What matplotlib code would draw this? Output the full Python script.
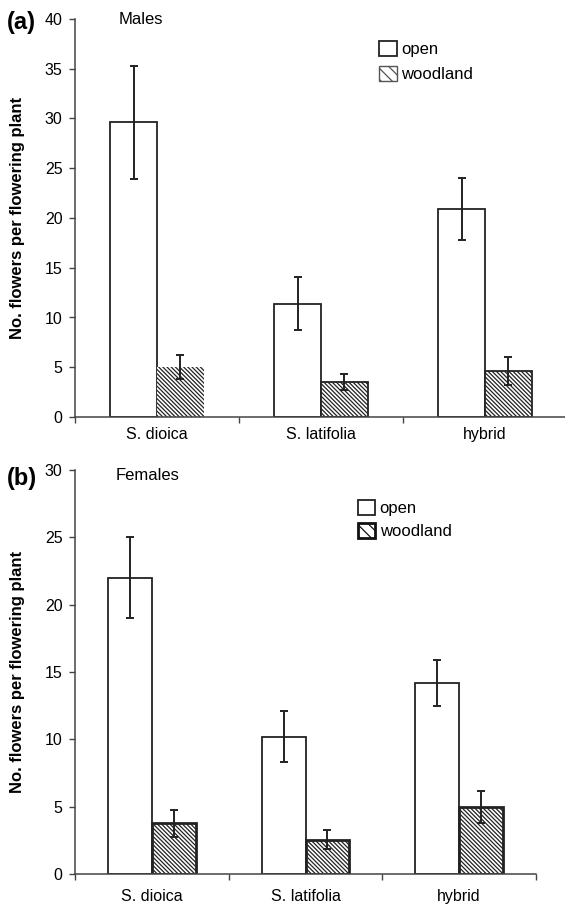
import numpy as np
import matplotlib.pyplot as plt
from matplotlib.patches import Patch

plt.rcParams['font.family'] = ['Liberation Sans', 'DejaVu Sans']
plt.rcParams['hatch.linewidth'] = 0.9

# Daten
species = ["S. dioica", "S. latifolia", "hybrid"]

males_open = [29.6, 11.4, 20.9]
males_open_se = [5.7, 2.65, 3.1]
males_wood = [5.05, 3.5, 4.6]
males_wood_se = [1.2, 0.8, 1.4]

females_open = [22.0, 10.2, 14.2]
females_open_se = [3.0, 1.9, 1.7]
females_wood = [3.76, 2.55, 5.0]
females_wood_se = [1.0, 0.7, 1.2]

HATCH = '\\' * 8

W, H = 565, 908
fig = plt.figure(figsize=(W / 100, H / 100), dpi=100)

def px_axes(left, right, top, bottom):
    return fig.add_axes([left / W, 1 - bottom / H, (right - left) / W, (bottom - top) / H])

def panel(ax, vals_open, se_open, vals_wood, se_wood, ymax, wood_lw, xlab_pad):
    x = np.arange(len(species))
    bw = 0.286
    ax.bar(x - bw / 2, vals_open, bw, color='white', edgecolor='#222222', linewidth=1.3)
    ax.bar(x + bw / 2, vals_wood, bw, color='white', edgecolor='#222222', hatch=HATCH,
           linewidth=wood_lw)
    ax.errorbar(x - bw / 2, vals_open, yerr=se_open, fmt='none', ecolor='#222222',
                elinewidth=1.4, capsize=3.2, capthick=1.4)
    ax.errorbar(x + bw / 2, vals_wood, yerr=se_wood, fmt='none', ecolor='#222222',
                elinewidth=1.4, capsize=3.2, capthick=1.4)
    ax.set_xlim(-0.5, len(species) - 0.5)
    ax.set_ylim(0, ymax)
    ax.set_yticks(np.arange(0, ymax + 1, 5))
    ax.set_xticks(x)
    ax.set_xticklabels(species)
    ax.set_xticks(np.arange(-0.5, len(species)), minor=True)
    ax.tick_params(axis='x', which='major', length=0, pad=xlab_pad, labelsize=11.5)
    ax.tick_params(axis='x', which='minor', length=4, width=1, color='#444444', direction='out')
    ax.tick_params(axis='y', length=4, width=1, color='#444444', pad=5, labelsize=11.5)
    for s in ['top', 'right']:
        ax.spines[s].set_visible(False)
    for s in ['left', 'bottom']:
        ax.spines[s].set_color('#444444')
        ax.spines[s].set_linewidth(1.1)

# (a) Males
ax1 = px_axes(75, 567, 19, 417)
panel(ax1, males_open, males_open_se, males_wood, males_wood_se, 40, [0, 1.3, 1.3], 7)
h1 = [Patch(facecolor='white', edgecolor='#222222', linewidth=1.3, label='open'),
      Patch(facecolor='white', edgecolor='#555555', linewidth=1.0, hatch='\\\\\\', label='woodland')]
ax1.legend(handles=h1, loc='upper left', bbox_to_anchor=(379 / W, 1 - 41 / H),
           bbox_transform=fig.transFigure, frameon=False, fontsize=12, handlelength=1.05,
           handleheight=1.05, handletextpad=0.3, labelspacing=0.5, borderpad=0, borderaxespad=0)
fig.text(7 / W, 1 - 23 / H, "(a)", fontsize=17, fontweight='bold', ha='left', va='center')
fig.text(119 / W, 1 - 19 / H, "Males", fontsize=12, ha='left', va='center')
fig.text(18 / W, 1 - 218 / H, "No. flowers per flowering plant", fontsize=12,
         fontweight='bold', rotation=90, ha='center', va='center')

# (b) Females
ax2 = px_axes(75, 536, 470, 874)
panel(ax2, females_open, females_open_se, females_wood, females_wood_se, 30, 2.0, 11)
h2 = [Patch(facecolor='white', edgecolor='#222222', linewidth=1.3, label='open'),
      Patch(facecolor='white', edgecolor='#111111', linewidth=2.0, hatch='\\\\\\', label='woodland')]
ax2.legend(handles=h2, loc='upper left', bbox_to_anchor=(358 / W, 1 - 500 / H),
           bbox_transform=fig.transFigure, frameon=False, fontsize=12, handlelength=1.0,
           handleheight=1.0, handletextpad=0.3, labelspacing=0.4, borderpad=0, borderaxespad=0)
fig.text(7 / W, 1 - 478 / H, "(b)", fontsize=17, fontweight='bold', ha='left', va='center')
fig.text(116 / W, 1 - 476 / H, "Females", fontsize=12, ha='left', va='center')
fig.text(18 / W, 1 - 672 / H, "No. flowers per flowering plant", fontsize=12,
         fontweight='bold', rotation=90, ha='center', va='center')

fig.savefig("out.png", dpi=100)
